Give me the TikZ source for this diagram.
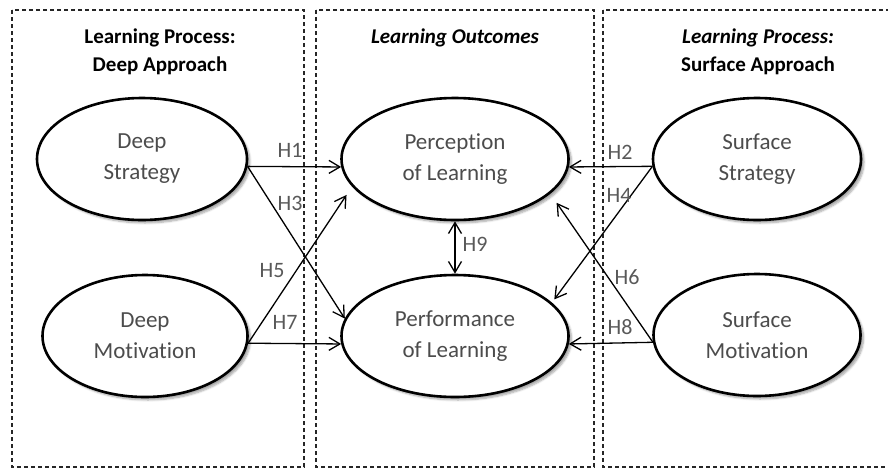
\documentclass[tikz,border=0pt]{standalone}
\usepackage{fontspec}
\setmainfont{Carlito}[Ligatures={NoCommon}]
\usetikzlibrary{shapes.geometric,shadows.blur,arrows.meta}

\begin{document}
\begin{tikzpicture}[x=1pt,y=-1pt,>={Straight Barb[length=11pt,width=13pt]}]
 \tikzstyle{construct} = [draw=black,line width=2.6pt,ellipse,inner sep=0,minimum height=122pt,fill=white,align=center,text=black!70,font=\fontsize{23}{31}\selectfont,blur shadow={shadow xshift=3pt,shadow yshift=-3pt,shadow blur steps=6,shadow opacity=35}]
 \tikzstyle{panel} = [draw=black!85,line width=1.1pt,dash pattern=on 4pt off 3pt]
 \tikzstyle{heading} = [font=\fontsize{21}{24}\selectfont\bfseries,inner sep=0]
 \tikzstyle{hyp} = [->,line width=1.3pt]
 \tikzstyle{hlabel} = [text=black!65,font=\fontsize{22}{24}\selectfont,inner sep=0]

 \useasboundingbox (0,0) rectangle (888,469);

% Panels
 \draw[panel] (12,10) rectangle (304,467);
 \draw[panel] (316,10) rectangle (594,467);
 \draw[panel] (603,10) rectangle (895,467);

% Headings
 \node[heading] (t1) at (160,38) {Learning Process:};
 \node[heading] (t2) at (160,66) {Deep Approach};
 \node[heading] (t3) at (455,38) {\itshape Learning Outcomes};
 \node[heading] (t4) at (758,38) {\itshape Learning Process:};
 \node[heading] (t5) at (758,66) {Surface Approach};

% Constructs
 \node[construct,minimum width=210pt] (ds) at (142,159) {Deep\\Strategy};
 \node[construct,minimum width=205pt] (dm) at (145,336) {Deep\\Motivation};
 \node[construct,minimum width=227pt] (pl) at (455,159) {Perception\\of Learning};
 \node[construct,minimum width=227pt] (pf) at (455,336) {Performance\\of Learning};
 \node[construct,minimum width=208pt] (ss) at (757,159) {Surface\\Strategy};
 \node[construct,minimum width=207pt] (sm) at (757,335) {Surface\\Motivation};

% Hypotheses
 \draw[hyp] (ds.-4) -- (pl.184);
 \draw[hyp] (ds.-4) -- (pf.171);
 \draw[hyp,shorten >=10pt] (dm.-4) -- (pl.195);
 \draw[hyp] (dm.-4) -- (pf.184);
 \draw[hyp] (ss.184) -- (pl.-4);
 \draw[hyp,shorten >=4pt] (ss.184) -- (pf.19);
 \draw[hyp,shorten >=11pt] (sm.184) -- (pl.-20);
 \draw[hyp] (sm.184) -- (pf.-4);
 \draw[hyp,<->] (pl.south) -- (pf.north);

 \node[hlabel] (h1) at (290,150) {H1};
 \node[hlabel] (h3) at (290,203) {H3};
 \node[hlabel] (h5) at (272,271) {H5};
 \node[hlabel] (h7) at (285,322) {H7};
 \node[hlabel] (h2) at (620,152) {H2};
 \node[hlabel] (h4) at (619,195) {H4};
 \node[hlabel] (h6) at (627,277) {H6};
 \node[hlabel] (h8) at (620,327) {H8};
 \node[hlabel] (h9) at (475,244) {H9};

\end{tikzpicture}
\end{document}
